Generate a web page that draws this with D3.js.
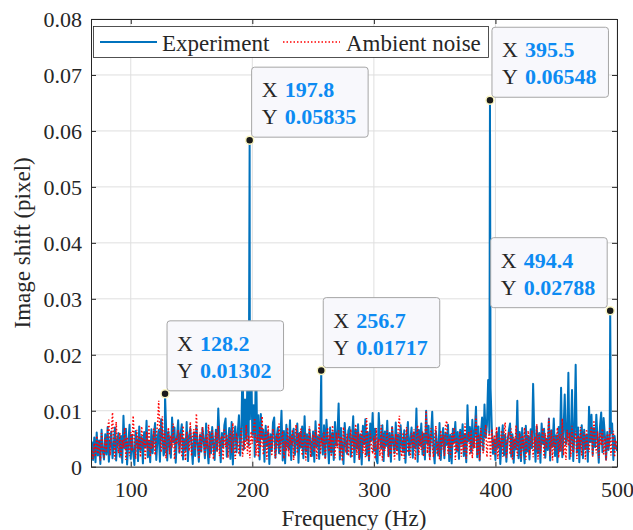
<!DOCTYPE html>
<html><head><meta charset="utf-8">
<script src="https://cdn.jsdelivr.net/npm/d3@7"></script>
<style>
body{margin:0;background:#fff}
svg{display:block}
</style>
</head><body>
<svg id="c" width="633" height="530"></svg>
<script>
// ---------- DATA ----------
// spectrum bins: first bin frequency and bin spacing (Hz)
const freqStart = 68;
const freqStep = 1;
// Experiment amplitude per bin, in units of 1e-4 pixel
const experiment = [
45,12,
52,8,61,20,47,5,66,28,13,58,
22,71,9,44,63,15,38,70,11,49,
60,18,55,7,91,33,68,4,42,75,
14,57,26,3,64,48,10,72,30,53,
6,62,35,82,17,45,8,67,24,56,
78,12,50,66,9,85,59,20,28,75,
11,63,38,16,88,44,70,7,52,83,
25,58,76,13,49,30,80,10,55,68,
36,5,61,19,73,42,9,57,27,69,
48,15,77,33,6,62,24,71,40,12,
66,29,104,51,8,60,35,74,86,18,
43,69,14,80,4,54,72,26,61,92,
20,65,190,31,120,47,160,38,85,200,
57,110,18,210,44,92,13,94,50,66,
9,73,37,62,5,58,28,79,88,16,
52,70,24,47,100,11,64,6,75,39,
30,83,12,55,68,21,46,77,7,60,
34,72,15,90,27,58,10,67,43,19,
63,9,81,36,54,14,68,59,22,74,
17,84,45,6,70,25,61,12,80,38,
56,113,13,69,35,5,78,41,23,64,
71,18,50,90,8,66,32,76,15,58,
4,73,40,85,20,62,11,77,47,96,
28,68,14,6,96,52,33,74,10,63,
37,82,19,60,9,71,45,24,79,31,
57,12,74,40,26,65,7,53,80,21,
48,70,16,61,33,104,9,66,38,77,
22,59,13,100,42,73,18,55,98,30,
6,64,36,20,78,12,51,69,15,60,
39,75,10,57,6,68,44,80,27,62,
14,66,41,76,19,58,8,110,46,71,
25,84,34,63,107,17,72,11,59,88,
29,111,52,75,155,60,140,70,23,48,
12,61,35,70,5,43,74,20,57,9,
46,64,77,18,58,7,49,31,118,15,
62,10,69,38,6,73,27,55,13,67,
33,148,54,9,72,24,60,7,77,41,
68,16,50,30,86,11,65,36,86,19,
56,8,71,28,141,17,63,129,40,52,
168,14,48,137,10,64,182,25,70,8,
53,74,15,66,32,57,9,107,44,93,
21,69,35,93,48,7,72,97,26,87,
58,13,62,30,50,60,77,12,55,36,
28
];
// Ambient noise amplitude per bin, in units of 1e-4 pixel
const ambient = [
35,14,
42,18,55,23,47,11,60,30,16,52,
27,65,84,20,58,97,35,13,80,40,
24,61,15,48,33,70,12,53,38,19,
62,28,91,45,14,66,31,55,17,72,
36,50,12,63,29,75,18,46,33,68,
21,57,74,118,60,26,90,30,64,15,
49,70,22,56,34,77,13,52,40,66,
25,59,17,73,38,11,63,44,28,80,
19,54,67,30,95,46,14,61,26,71,
43,20,57,32,75,16,50,65,13,45,
62,27,73,19,48,55,12,68,35,58,
16,49,64,25,78,37,14,60,44,22,
53,69,18,47,30,75,23,56,15,63,
41,66,87,20,57,17,72,34,90,21,
50,62,13,74,31,56,19,68,42,15,
59,33,77,22,49,64,14,46,28,70,
18,55,39,66,12,51,75,24,60,34,
68,20,48,61,11,54,29,72,17,45,
58,26,66,14,50,78,22,53,36,63,
13,52,70,27,57,18,74,38,15,61,
33,65,20,54,10,71,42,25,59,19,
48,67,16,56,30,76,21,62,12,51,
66,24,57,17,87,40,13,64,35,23,
55,14,69,31,50,19,74,11,60,28,
47,65,17,56,22,72,38,13,59,20,
68,91,29,18,61,14,52,71,25,44,
16,60,33,67,12,50,74,21,56,30,
63,18,48,100,24,58,11,69,40,17,
54,73,22,45,13,65,31,57,19,76,
82,23,51,16,60,35,70,12,53,27,
44,64,18,56,26,77,14,49,62,21,
66,15,52,33,91,20,58,12,69,37,
24,55,75,17,48,63,13,67,30,56,
20,71,14,52,35,65,18,59,79,16,
49,62,22,68,13,53,32,74,19,46,
60,15,56,28,70,12,51,64,21,42,
65,17,53,30,76,13,57,24,49,69,
15,60,33,52,86,19,65,11,55,29,
47,70,16,59,27,86,20,53,12,66,
37,61,18,73,25,50,64,14,56,31,
71,20,52,62,13,67,35,26,58,72,
18,83,49,24,63,15,60,38,68,22,
54,11,59,31,69,20,50,64,17,47,
30
];
const ampUnit = 1e-4;
// Data tips (peaks of the experiment spectrum)
const peakFreqs  = [128.2, 197.8, 256.7, 395.5, 494.4];
const peakValues = [0.01302, 0.05835, 0.01717, 0.06548, 0.02788];
const peakLabelsX = ["128.2","197.8","256.7","395.5","494.4"];
const peakLabelsY = ["0.01302","0.05835","0.01717","0.06548","0.02788"];
const tipSide = ["right","right","right","right","left"];
// Axes
const xDomain = [67.3, 500];
const yDomain = [0, 0.08];
const xTicks = [100, 200, 300, 400, 500];
const xTickLabels = ["100","200","300","400","500"];
const yTicks = [0, 0.01, 0.02, 0.03, 0.04, 0.05, 0.06, 0.07, 0.08];
const yTickLabels = ["0","0.01","0.02","0.03","0.04","0.05","0.06","0.07","0.08"];
const seriesNames = ["Experiment", "Ambient noise"];

// ---------- LAYOUT ----------
const SERIF = '"Liberation Serif", "Times New Roman", Times, serif';
const L = 91, R = 617, T = 19, B = 466.7;
const blue = "#0072BD", red = "#FF0000", axisCol = "#262626", tipBlue = "#0d8bf2";

const svg = d3.select("#c");
const x = d3.scaleLinear().domain(xDomain).range([L, R]);
const y = d3.scaleLinear().domain(yDomain).range([B, T]);

// build series
const expPts = experiment.map((v, i) => [freqStart + i * freqStep, v * ampUnit]);
peakFreqs.forEach((f, i) => expPts.push([f, peakValues[i]]));
expPts.sort((a, b) => a[0] - b[0]);
const ambPts = ambient.map((v, i) => [freqStart + i * freqStep, v * ampUnit]);

// grid
const grid = svg.append("g").attr("stroke", "#dfdfdf").attr("stroke-width", 1);
xTicks.forEach(t => grid.append("line").attr("x1", x(t)).attr("x2", x(t)).attr("y1", T).attr("y2", B));
yTicks.forEach(t => grid.append("line").attr("x1", L).attr("x2", R).attr("y1", y(t)).attr("y2", y(t)));

// clip
svg.append("defs").append("clipPath").attr("id", "clip")
  .append("rect").attr("x", L).attr("y", T).attr("width", R - L).attr("height", B - T);

const line = d3.line().x(d => x(d[0])).y(d => y(d[1]));
const plot = svg.append("g").attr("clip-path", "url(#clip)");
plot.append("path").datum(expPts).attr("d", line)
  .attr("fill", "none").attr("stroke", blue).attr("stroke-width", 2).attr("stroke-linejoin", "round");
plot.append("path").datum(ambPts).attr("d", line)
  .attr("fill", "none").attr("stroke", red).attr("stroke-width", 1.5).attr("stroke-dasharray", "1.5,2");

// axes (box with inward ticks)
const ax = svg.append("g");
const xAxisB = d3.axisBottom(x).tickValues(xTicks).tickFormat((d, i) => xTickLabels[i]).tickSizeInner(-5).tickSizeOuter(0);
const xAxisT = d3.axisTop(x).tickValues(xTicks).tickFormat("").tickSizeInner(-5).tickSizeOuter(0);
const yAxisL = d3.axisLeft(y).tickValues(yTicks).tickFormat((d, i) => yTickLabels[i]).tickSizeInner(-5).tickSizeOuter(0);
const yAxisR = d3.axisRight(y).tickValues(yTicks).tickFormat("").tickSizeInner(-5).tickSizeOuter(0);
function styleAxis(g) {
  g.attr("font-family", SERIF);
  g.select(".domain").attr("stroke", axisCol).attr("stroke-width", 1);
  g.selectAll(".tick line").attr("stroke", axisCol).attr("stroke-width", 1);
  g.selectAll(".tick text").attr("fill", axisCol).style("font-size", "22px").style("font-family", SERIF);
}
ax.append("g").attr("transform", `translate(0,${B})`).call(xAxisB).call(styleAxis)
  .selectAll(".tick text").attr("dy", null).attr("y", 30);
ax.append("g").attr("transform", `translate(0,${T})`).call(xAxisT).call(styleAxis);
ax.append("g").attr("transform", `translate(${L},0)`).call(yAxisL).call(styleAxis)
  .selectAll(".tick text").attr("x", -9).attr("dy", "0.34em");
ax.append("g").attr("transform", `translate(${R},0)`).call(yAxisR).call(styleAxis);

// axis titles
svg.append("text").attr("x", (L + R) / 2).attr("y", 526).attr("text-anchor", "middle")
  .style("font-family", SERIF).style("font-size", "23px").attr("fill", axisCol).text("Frequency (Hz)");
svg.append("text").attr("transform", `translate(30,${(T + B) / 2}) rotate(-90)`).attr("text-anchor", "middle")
  .style("font-family", SERIF).style("font-size", "23px").attr("fill", axisCol).text("Image shift (pixel)");

// legend
const lg = svg.append("g");
lg.append("rect").attr("x", 93.5).attr("y", 26.5).attr("width", 395).attr("height", 31)
  .attr("fill", "#fff").attr("stroke", axisCol).attr("stroke-width", 0.8);
lg.append("line").attr("x1", 100).attr("x2", 157).attr("y1", 42).attr("y2", 42)
  .attr("stroke", blue).attr("stroke-width", 2);
lg.append("text").attr("x", 162).attr("y", 51).style("font-family", SERIF).style("font-size", "23px")
  .attr("fill", axisCol).text(seriesNames[0]);
lg.append("line").attr("x1", 283).attr("x2", 340).attr("y1", 42).attr("y2", 42)
  .attr("stroke", red).attr("stroke-width", 1.5).attr("stroke-dasharray", "1.5,2");
lg.append("text").attr("x", 346).attr("y", 51).style("font-family", SERIF).style("font-size", "23px")
  .attr("fill", axisCol).text(seriesNames[1]);

// data tips
peakFreqs.forEach((f, i) => {
  const px = x(f), py = y(peakValues[i]);
  const g = svg.append("g");
  const rect = g.append("rect").attr("rx", 3).attr("ry", 3)
    .attr("fill", "#f8f8fc").attr("stroke", "#a6a6a6").attr("stroke-width", 1);
  const mk = (s, bold) => g.append("text").style("font-family", SERIF).style("font-size", "22px")
    .style("font-weight", bold ? "bold" : "normal").attr("fill", bold ? tipBlue : axisCol).text(s);
  const tx1 = mk("X", false), tv1 = mk(peakLabelsX[i], true);
  const tx2 = mk("Y", false), tv2 = mk(peakLabelsY[i], true);
  const w = 33 + Math.max(tv1.node().getComputedTextLength(), tv2.node().getComputedTextLength()) + 12;
  const h = 70;
  const bx = tipSide[i] === "right" ? px + 2 : px - 3 - w;
  const by = py - 3 - h;
  rect.attr("x", bx).attr("y", by).attr("width", w).attr("height", h);
  tx1.attr("x", bx + 10).attr("y", by + 30);
  tv1.attr("x", bx + 33).attr("y", by + 30);
  tx2.attr("x", bx + 10).attr("y", by + 57);
  tv2.attr("x", bx + 33).attr("y", by + 57);
  svg.append("circle").attr("cx", px).attr("cy", py).attr("r", 4)
    .attr("fill", "#1a1a1a").attr("stroke", "#fbf6c0").attr("stroke-width", 1.5);
});
</script>
</body></html>
